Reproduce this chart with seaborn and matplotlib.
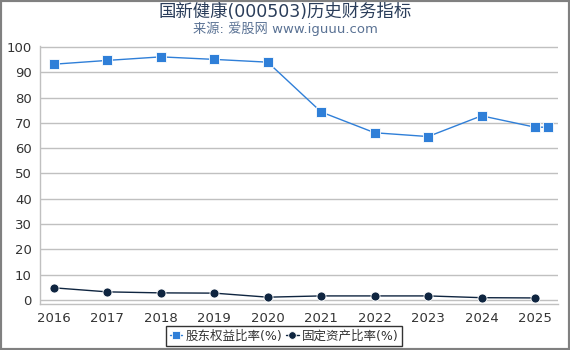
import matplotlib
matplotlib.use("Agg")
import matplotlib.pyplot as plt
import seaborn as sns
import pandas as pd
from matplotlib.patches import Rectangle

title = "国新健康(000503)历史财务指标"
subtitle = "来源: 爱股网 www.iguuu.com"
series_names = ["股东权益比率(%)", "固定资产比率(%)"]
years = [2016, 2017, 2018, 2019, 2020, 2021, 2022, 2023, 2024, 2025]
equity_x = [2016, 2017, 2018, 2019, 2020, 2021, 2022, 2023, 2024, 2025, 2025.25]
equity = [93.2, 94.7, 96.1, 95.1, 94.0, 74.3, 66.1, 64.6, 72.8, 68.3, 68.3]
fixed_x = [2016, 2017, 2018, 2019, 2020, 2021, 2022, 2023, 2024, 2025]
fixed = [4.8, 3.2, 2.8, 2.7, 1.1, 1.6, 1.6, 1.6, 0.9, 0.8]
yticks = [0, 10, 20, 30, 40, 50, 60, 70, 80, 90, 100]

sns.set_style("white")
plt.rcParams['font.family'] = ['DejaVu Sans', 'Noto Sans CJK SC']

df = pd.concat([
    pd.DataFrame({"x": equity_x, "y": equity, "s": series_names[0]}),
    pd.DataFrame({"x": fixed_x, "y": fixed, "s": series_names[1]}),
])

fig = plt.figure(figsize=(5.7, 3.5), dpi=100)
ax = fig.add_axes([0.0702, 0.1314, 0.9088, 0.7372])

palette = {series_names[0]: "#2f7fd8", series_names[1]: "#0f2540"}
sns.lineplot(data=df, x="x", y="y", hue="s", style="s", palette=palette,
             markers={series_names[0]: "s", series_names[1]: "o"},
             dashes=False, markersize=6.5, linewidth=1.0,
             markeredgewidth=0.6, ax=ax, legend=True, sort=False)

for line in ax.lines:
    line.set_markeredgecolor("#ffffff")

ax.set_xlim(2015.74, 2025.43)
ax.set_ylim(-1.6, 100.4)
ax.set_xticks(years)
ax.set_xticklabels([str(y) for y in years])
ax.set_yticks(yticks)
ax.set_xlabel("")
ax.set_ylabel("")
ax.grid(axis="y", color="#c0c0c0", linewidth=1.0)
ax.set_axisbelow(True)
for side in ["top", "right"]:
    ax.spines[side].set_visible(False)
for side in ["left", "bottom"]:
    ax.spines[side].set_color("#c0c0c0")
    ax.spines[side].set_linewidth(1.0)
ax.tick_params(axis="both", colors="#c0c0c0", labelcolor="#333333",
               labelsize=9.5, length=4, width=1, direction="out")
ax.tick_params(axis="y", pad=2)
ax.tick_params(axis="x", pad=2)

handles, labels = ax.get_legend_handles_labels()
for h in handles:
    h.set_markersize(5.5)
ax.legend(handles, labels, loc="center", bbox_to_anchor=(0.4985, 0.04),
          bbox_transform=fig.transFigure, ncol=2, frameon=True, fancybox=False,
          edgecolor="#000000", fontsize=9, handlelength=1.0, handletextpad=0.25,
          columnspacing=0.3, borderpad=0.3, borderaxespad=0, labelcolor="#333333")
ax.get_legend().get_frame().set_linewidth(1.0)

fig.text(0.5, 0.967, title, ha="center", va="center", fontsize=12.5, color="#2a3d5a")
fig.text(0.5, 0.918, subtitle, ha="center", va="center", fontsize=9.5, color="#5a7294")

fig.patches.append(Rectangle((0, 0), 1, 1, transform=fig.transFigure, fill=False,
                             edgecolor="#808080", linewidth=3, zorder=10))

fig.savefig("out.png", dpi=100)
